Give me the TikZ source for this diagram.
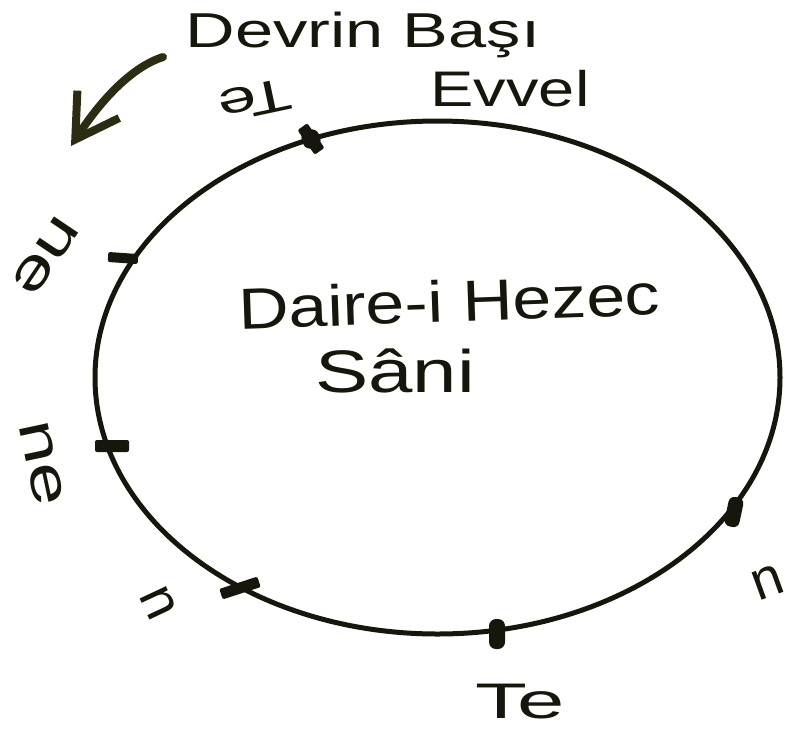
\documentclass[tikz,border=0pt]{standalone}
\usepackage{fontspec}
\setmainfont{Liberation Sans}
\usetikzlibrary{arrows.meta,shapes.geometric}
\definecolor{ink}{RGB}{22,22,12}
\definecolor{inkol}{RGB}{44,44,18}
\tikzset{
  hand/.style={text=ink, inner sep=0pt},
  tickmark/.style={fill=ink, rectangle, inner sep=0pt, rounded corners=2pt},
  dairebox/.style={ellipse, draw=ink, line width=5pt, inner sep=0pt,
    minimum width=685pt, minimum height=513pt},
}
\newcommand{\fsz}[1]{\fontsize{#1}{#1}\selectfont}
\begin{document}
\begin{tikzpicture}[x=1pt,y=-1pt]
\useasboundingbox (0,0) rectangle (793,732);
\fill[white] (0,0) rectangle (793,732);

% the circle
\node[dairebox] (daire) at (437.5,377.5) {};

% tick marks on the circle
\node[tickmark, minimum width=30pt, minimum height=12pt, rotate=-55] (t0) at (311,139) {};
\node[tickmark, minimum width=18pt, minimum height=18pt, rounded corners=7pt, rotate=20] (t0b) at (311,139) {};
\node[tickmark, minimum width=30pt, minimum height=10pt, rotate=-4] (t1) at (123,258) {};
\node[tickmark, minimum width=34pt, minimum height=12pt] (t2) at (112,446) {};
\node[tickmark, minimum width=40pt, minimum height=11pt, rotate=18] (t3) at (240,588) {};
\node[tickmark, minimum width=16pt, minimum height=30pt, rounded corners=7pt] (t4) at (497,634) {};
\node[tickmark, minimum width=15pt, minimum height=30pt, rounded corners=6pt, rotate=-12] (t5) at (734,512) {};

% arrow
\coordinate (ok1) at (163,57);
\coordinate (ok2) at (71,146);
\draw[inkol, line width=8pt, line cap=round,
  -{Straight Barb[length=42pt,width=50pt]}]
  (ok1) .. controls (123,70) and (90,117) .. (ok2);

% texts
\node[hand, font=\fsz{49}, anchor=base] (devrin) at (363,47) {\scalebox{1.4}[1]{Devrin Başı}};
\node[hand, font=\fsz{50}, anchor=base] (evvel) at (510,106) {\scalebox{1.3}[1]{Evvel}};
\node[hand, font=\fsz{58}, anchor=base, rotate=2] (hezec) at (450,322) {\scalebox{1.2}[1]{Daire-i Hezec}};
\node[hand, font=\fsz{60}, anchor=base] (sani) at (395,392) {\scalebox{1.33}[1]{Sâni}};

\node[hand, font=\fsz{50}, anchor=base] (teb) at (520,718) {\scalebox{1.7}[1]{Te}};
\node[hand, font=\fsz{46}, rotate=192] (tet) at (255,100) {\scalebox{1.5}[1]{Te}};
\node[hand, font=\fsz{55}, rotate=-124] (ne1) at (46,256) {\scalebox{1.4}[1]{ne}};
\node[hand, font=\fsz{55}, rotate=-78] (ne2) at (42,463) {\scalebox{1.4}[1]{ne}};
\node[hand, font=\fsz{55}, rotate=-65] (n1) at (158,603) {n};
\node[hand, font=\fsz{55}, rotate=20] (n2) at (768,582) {n};
\end{tikzpicture}
\end{document}
